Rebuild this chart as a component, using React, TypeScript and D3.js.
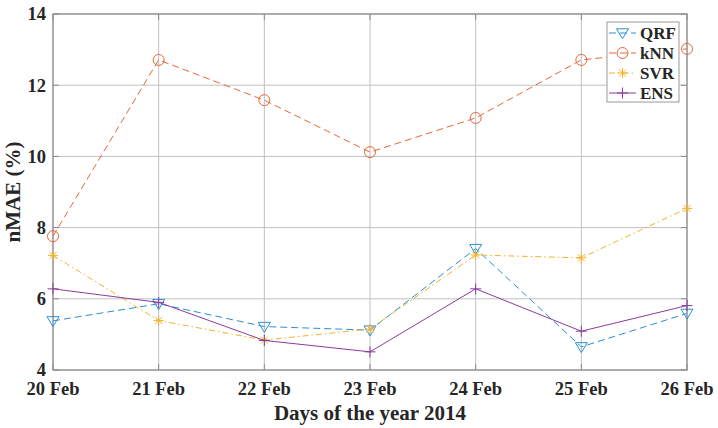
import * as d3 from "d3";

const days = ["20 Feb", "21 Feb", "22 Feb", "23 Feb", "24 Feb", "25 Feb", "26 Feb"];
const qrf = [5.38, 5.86, 5.22, 5.12, 7.41, 4.65, 5.59];
const knn = [7.76, 12.71, 11.58, 10.12, 11.08, 12.71, 13.02];
const svr = [7.22, 5.39, 4.84, 5.15, 7.23, 7.15, 8.54];
const ens = [6.28, 5.9, 4.83, 4.51, 6.28, 5.09, 5.81];
const yTicks = [4, 6, 8, 10, 12, 14];

const W = 718;
const H = 428;
const left = 53;
const right = 687;
const top = 14;
const bottom = 370;
const font = "'Liberation Serif', 'Times New Roman', serif";
const textColor = "#262626";

type Marker = "tri" | "circle" | "star" | "plus";

interface Series {
  name: string;
  values: number[];
  color: string;
  dash: string;
  marker: Marker;
}

const series: Series[] = [
  { name: "QRF", values: qrf, color: "#2b8fd2", dash: "7,4", marker: "tri" },
  { name: "kNN", values: knn, color: "#e4683a", dash: "7,4", marker: "circle" },
  { name: "SVR", values: svr, color: "#f0b42c", dash: "6,3,1.5,3", marker: "star" },
  { name: "ENS", values: ens, color: "#8a3c9c", dash: "", marker: "plus" },
];

const x = d3.scalePoint<string>().domain(days).range([left, right]);
const y = d3.scaleLinear().domain([4, 14]).range([bottom, top]);

function MarkerShape({ kind, cx, cy, color }: { kind: Marker; cx: number; cy: number; color: string }) {
  const common = { fill: "none", stroke: color, strokeWidth: 1 };
  if (kind === "tri") {
    const s = 6;
    return <path d={`M${cx - s},${cy - s * 0.7}L${cx + s},${cy - s * 0.7}L${cx},${cy + s * 0.95}Z`} {...common} />;
  }
  if (kind === "circle") return <circle cx={cx} cy={cy} r={5.5} {...common} />;
  if (kind === "star") {
    const s = 5;
    const d = s * 0.72;
    return (
      <path
        d={`M${cx - s},${cy}H${cx + s}M${cx},${cy - s}V${cy + s}M${cx - d},${cy - d}L${cx + d},${cy + d}M${cx - d},${cy + d}L${cx + d},${cy - d}`}
        {...common}
      />
    );
  }
  const s = 5.5;
  return <path d={`M${cx - s},${cy}H${cx + s}M${cx},${cy - s}V${cy + s}`} {...common} />;
}

export default function App() {
  const line = d3
    .line<number>()
    .x((_, i) => x(days[i]) as number)
    .y((d) => y(d));

  return (
    <svg width={W} height={H} style={{ position: "absolute", left: 0, top: 0, background: "#fff" }}>
      {/* grid */}
      {days.map((d) => (
        <line key={d} x1={x(d)} x2={x(d)} y1={top} y2={bottom} stroke="#c0c0c0" strokeWidth={1} />
      ))}
      {yTicks.map((t) => (
        <line key={t} x1={left} x2={right} y1={y(t)} y2={y(t)} stroke="#c0c0c0" strokeWidth={1} />
      ))}
      {/* box */}
      <rect x={left} y={top} width={right - left} height={bottom - top} fill="none" stroke="#8c8c8c" strokeWidth={1.2} />
      {/* ticks */}
      {days.map((d) => (
        <g key={d}>
          <line x1={x(d)} x2={x(d)} y1={bottom} y2={bottom - 6} stroke="#8c8c8c" />
          <line x1={x(d)} x2={x(d)} y1={top} y2={top + 6} stroke="#8c8c8c" />
          <text
            x={x(d)}
            y={395}
            textAnchor="middle"
            fontFamily={font}
            fontWeight="bold"
            fontSize={18.5}
            fill={textColor}
          >
            {d}
          </text>
        </g>
      ))}
      {yTicks.map((t) => (
        <g key={t}>
          <line x1={left} x2={left + 6} y1={y(t)} y2={y(t)} stroke="#8c8c8c" />
          <line x1={right} x2={right - 6} y1={y(t)} y2={y(t)} stroke="#8c8c8c" />
          <text
            x={46}
            y={y(t)}
            dy="0.35em"
            textAnchor="end"
            fontFamily={font}
            fontWeight="bold"
            fontSize={18.5}
            fill={textColor}
          >
            {t}
          </text>
        </g>
      ))}
      {/* axis titles */}
      <text x={(left + right) / 2} y={420} textAnchor="middle" fontFamily={font} fontWeight="bold" fontSize={21} fill={textColor}>
        Days of the year 2014
      </text>
      <text
        transform={`translate(20,${(top + bottom) / 2}) rotate(-90)`}
        textAnchor="middle"
        fontFamily={font}
        fontWeight="bold"
        fontSize={21}
        fill={textColor}
      >
        nMAE (%)
      </text>
      {/* series */}
      {series.map((s) => (
        <g key={s.name}>
          <path d={line(s.values) || ""} fill="none" stroke={s.color} strokeWidth={1} strokeDasharray={s.dash} />
          {s.values.map((v, i) => (
            <MarkerShape key={i} kind={s.marker} cx={x(days[i]) as number} cy={y(v)} color={s.color} />
          ))}
        </g>
      ))}
      {/* legend */}
      <rect x={607} y={22} width={72} height={80} fill="#fff" stroke="#999" strokeWidth={1} />
      {series.map((s, i) => {
        const cy = 33 + i * 20;
        return (
          <g key={s.name}>
            <line x1={609} x2={636} y1={cy} y2={cy} stroke={s.color} strokeWidth={1} strokeDasharray={s.dash} />
            <MarkerShape kind={s.marker} cx={622.5} cy={cy} color={s.color} />
            <text x={640} y={cy} dy="0.35em" fontFamily={font} fontWeight="bold" fontSize={17} fill={textColor}>
              {s.name}
            </text>
          </g>
        );
      })}
    </svg>
  );
}
